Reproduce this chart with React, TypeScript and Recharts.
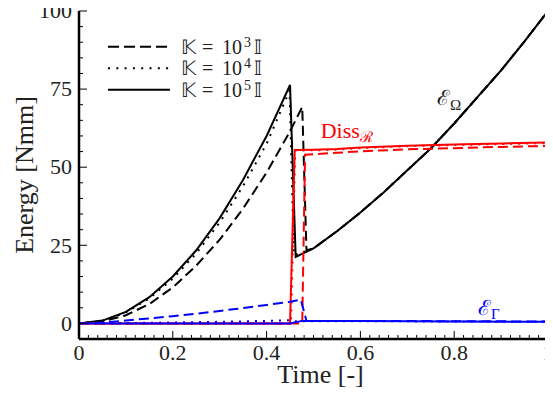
import React from 'react';
import { LineChart, Line, XAxis, YAxis } from 'recharts';

// ---- data (time [-], energy [Nmm]) ----
const omegaK5: [number, number][] = [
  [0, 0], [0.05, 0.9], [0.1, 3.7], [0.15, 8.4], [0.2, 15], [0.25, 23.4], [0.3, 33.7], [0.35, 46],
  [0.4, 60], [0.45, 76.3], [0.462, 21.3], [0.5, 24], [0.55, 29.5], [0.6, 35.5], [0.65, 42],
  [0.7, 49], [0.75, 56], [0.8, 64], [0.85, 72.5], [0.9, 81], [0.95, 90.3], [1, 100],
];
const omegaK4: [number, number][] = [
  [0, 0], [0.05, 0.8], [0.1, 3.5], [0.15, 8], [0.2, 14.3], [0.25, 22.4], [0.3, 32.3], [0.35, 44],
  [0.4, 57.5], [0.449, 74.5], [0.458, 21.8], [0.5, 24], [0.55, 29.5], [0.6, 35.5], [0.65, 42],
  [0.7, 49], [0.75, 56], [0.8, 64], [0.85, 72.5], [0.9, 81], [0.95, 90.3], [1, 100],
];
const omegaK3: [number, number][] = [
  [0, 0], [0.05, 0.6], [0.1, 2.6], [0.15, 6.2], [0.2, 11.5], [0.25, 18.5], [0.3, 26.8], [0.35, 36.8],
  [0.4, 48.3], [0.45, 61.5], [0.476, 69.3], [0.485, 23.4], [0.5, 24], [0.55, 29.5], [0.6, 35.5],
  [0.65, 42], [0.7, 49], [0.75, 56], [0.8, 64], [0.85, 72.5], [0.9, 81], [0.95, 90.3], [1, 100],
];
const dissK5: [number, number][] = [
  [0, 0], [0.45, 0], [0.46, 55.5], [0.5, 55.6], [0.55, 55.8], [0.6, 56.3], [0.7, 56.9], [0.8, 57.3], [0.9, 57.6], [1, 57.9],
];
const dissK4: [number, number][] = [
  [0, 0], [0.452, 0], [0.461, 55.3], [0.5, 55.4], [0.55, 55.6], [0.6, 56.1], [0.7, 56.7], [0.8, 57.1], [0.9, 57.4], [1, 57.7],
];
const dissK3: [number, number][] = [
  [0, 0], [0.476, 0], [0.482, 54], [0.55, 54.6], [0.6, 55.1], [0.7, 55.7], [0.8, 56.1], [0.9, 56.5], [1, 56.8],
];
const gammaK5: [number, number][] = [
  [0, 0], [0.45, 0], [0.475, 0.8], [0.6, 0.8], [0.8, 0.6], [1, 0.5],
];
const gammaK4: [number, number][] = [
  [0, 0], [0.1, 0.1], [0.2, 0.3], [0.3, 0.5], [0.4, 0.8], [0.449, 1], [0.46, 0.7], [0.6, 0.7], [1, 0.5],
];
const gammaK3: [number, number][] = [
  [0, 0], [0.05, 0.3], [0.1, 0.9], [0.15, 1.6], [0.2, 2.3], [0.25, 3.1], [0.3, 4], [0.35, 4.9], [0.4, 5.9],
  [0.45, 6.9], [0.473, 7.6], [0.485, 0.8], [0.6, 0.8], [0.8, 0.7], [1, 0.6],
];

const xMajor = [0, 0.2, 0.4, 0.6, 0.8, 1];
const xTicks = Array.from({ length: 51 }, (_, i) => +(i * 0.02).toFixed(2));
const yMajor = [0, 25, 50, 75, 100];
const yTicks = Array.from({ length: 21 }, (_, i) => i * 5);
const xLabels = ['0', '0.2', '0.4', '0.6', '0.8', '1'];
const legendExps = ['3', '4', '5'];

const toPts = (a: [number, number][]) => a.map(([t, v]) => ({ t, v }));

const FONT = 'Liberation Serif';
const MATHFONT = 'serif';
const fs = (size: number, family: string) => ({ fontFamily: family, fontSize: size });

const isXMajor = (v: number) => xMajor.some((m) => Math.abs(m - v) < 1e-6);
const isYMajor = (v: number) => yMajor.some((m) => Math.abs(m - v) < 1e-6);

const BottomTick = (p: any) => {
  const { x, y, payload } = p;
  const major = isXMajor(payload.value);
  const idx = xMajor.findIndex((m) => Math.abs(m - payload.value) < 1e-6);
  return (
    <g>
      <line x1={x} x2={x} y1={y} y2={y - (major ? 8 : 4)} stroke="#000" strokeWidth={1} />
      {major && (
        <text x={x} y={y + 21} textAnchor="middle" style={fs(22, FONT)} fill="#222">
          {xLabels[idx]}
        </text>
      )}
    </g>
  );
};
const TopTick = (p: any) => {
  const { x, y, payload } = p;
  const major = isXMajor(payload.value);
  return <line x1={x} x2={x} y1={y} y2={y + (major ? 8 : 4)} stroke="#000" strokeWidth={1} />;
};
const LeftTick = (p: any) => {
  const { x, y, payload } = p;
  const major = isYMajor(payload.value);
  return (
    <g>
      <line x1={x} x2={x + (major ? 8 : 4)} y1={y} y2={y} stroke="#000" strokeWidth={1} />
      {major && (
        <text x={x - 7} y={y} dy="0.33em" textAnchor="end" style={fs(22, FONT)} fill="#222">
          {payload.value}
        </text>
      )}
    </g>
  );
};
const RightTick = (p: any) => {
  const { x, y, payload } = p;
  const major = isYMajor(payload.value);
  return <line x1={x} x2={x - (major ? 8 : 4)} y1={y} y2={y} stroke="#000" strokeWidth={1} />;
};

const XTitle = (p: any) => {
  const vb = p.viewBox || { x: 79, y: 339, width: 469, height: 55 };
  return (
    <text x={vb.x + vb.width / 2 + 7} y={vb.y + 44} textAnchor="middle" style={fs(26, FONT)} fill="#222">
      Time [-]
    </text>
  );
};
const YTitle = (p: any) => {
  const vb = p.viewBox || { x: 0, y: 11, width: 79, height: 328 };
  const cx = 33;
  const cy = vb.y + vb.height / 2;
  return (
    <text x={cx} y={cy} transform={`rotate(-90, ${cx}, ${cy})`} textAnchor="middle" style={fs(26, FONT)} fill="#222">
      Energy [Nmm]
    </text>
  );
};

const axisLine = { stroke: '#000', strokeWidth: 2.5 };

const legendDash: (string | undefined)[] = ['11 5', '2 6.3', undefined];

export default function App() {
  const W = 553;
  const H = 394;
  const series = [
    { d: omegaK3, c: '#000', dash: '10 5', w: 2 },
    { d: omegaK4, c: '#000', dash: '2 6', w: 2 },
    { d: omegaK5, c: '#000', dash: undefined, w: 2 },
    { d: dissK3, c: '#ff0000', dash: '10 5', w: 2 },
    { d: dissK4, c: '#ff0000', dash: '2 6', w: 2 },
    { d: dissK5, c: '#ff0000', dash: undefined, w: 2 },
    { d: gammaK3, c: '#0000ff', dash: '10 5', w: 2 },
    { d: gammaK4, c: '#0000ff', dash: '2 6', w: 2 },
    { d: gammaK5, c: '#0000ff', dash: undefined, w: 2 },
  ];
  return (
    <div style={{ position: 'relative', width: W, height: H, marginLeft: -8, marginTop: -8 }}>
      <LineChart width={W} height={H} margin={{ top: 11, right: 5, left: 0, bottom: 0 }}>
        <XAxis
          xAxisId="b"
          dataKey="t"
          type="number"
          domain={[0, 1]}
          ticks={xTicks}
          interval={0}
          height={55}
          tickSize={0}
          tickMargin={0}
          tickLine={false}
          tick={BottomTick}
          axisLine={axisLine}
          label={XTitle}
        />
        <XAxis
          xAxisId="t"
          orientation="top"
          dataKey="t"
          type="number"
          domain={[0, 1]}
          ticks={xTicks}
          interval={0}
          height={0}
          tickSize={0}
          tickMargin={0}
          tickLine={false}
          tick={TopTick}
          axisLine={axisLine}
        />
        <YAxis
          yAxisId="l"
          type="number"
          domain={[-5, 100]}
          ticks={yTicks}
          interval={0}
          width={79}
          tickSize={0}
          tickMargin={0}
          tickLine={false}
          tick={LeftTick}
          axisLine={axisLine}
          label={YTitle}
        />
        <YAxis
          yAxisId="r"
          orientation="right"
          type="number"
          domain={[-5, 100]}
          ticks={yTicks}
          interval={0}
          width={0}
          tickSize={0}
          tickMargin={0}
          tickLine={false}
          tick={RightTick}
          axisLine={axisLine}
        />
        {series.map((s, i) => (
          <Line
            key={i}
            xAxisId="b"
            yAxisId="l"
            data={toPts(s.d)}
            dataKey="v"
            type="linear"
            stroke={s.c}
            strokeWidth={s.w}
            strokeDasharray={s.dash}
            dot={false}
            activeDot={false}
            isAnimationActive={false}
          />
        ))}
      </LineChart>
      <svg width={W} height={H} style={{ position: 'absolute', left: 0, top: 0, pointerEvents: 'none' }}>
        {legendExps.map((e, i) => {
          const y = 46.7 + i * 21.5;
          return (
            <g key={i}>
              <line x1={108} x2={170} y1={y} y2={y} stroke="#000" strokeWidth={2} strokeDasharray={legendDash[i]} />
              <text y={y} dy="0.34em" style={fs(20, MATHFONT)} fill="#222">
                <tspan x={181}>𝕂</tspan>
                <tspan x={202}>=</tspan>
                <tspan x={222}>10</tspan>
                <tspan x={244} dy={-7} style={fs(14, MATHFONT)}>{e}</tspan>
                <tspan x={254} dy={7}>𝕀</tspan>
              </text>
            </g>
          );
        })}
        <text x={437} y={105} style={fs(21, MATHFONT)} fill="#222">
          ℰ<tspan dy={5} style={fs(15, MATHFONT)}>Ω</tspan>
        </text>
        <text x={320.7} y={137.7} style={fs(22, FONT)} fill="#ff0000">
          Diss<tspan dy={4} style={fs(15, MATHFONT)}>ℛ</tspan>
        </text>
        <text x={478} y={315} style={fs(21, MATHFONT)} fill="#0000ff">
          ℰ<tspan dy={4} style={fs(15, MATHFONT)}>Γ</tspan>
        </text>
      </svg>
    </div>
  );
}
